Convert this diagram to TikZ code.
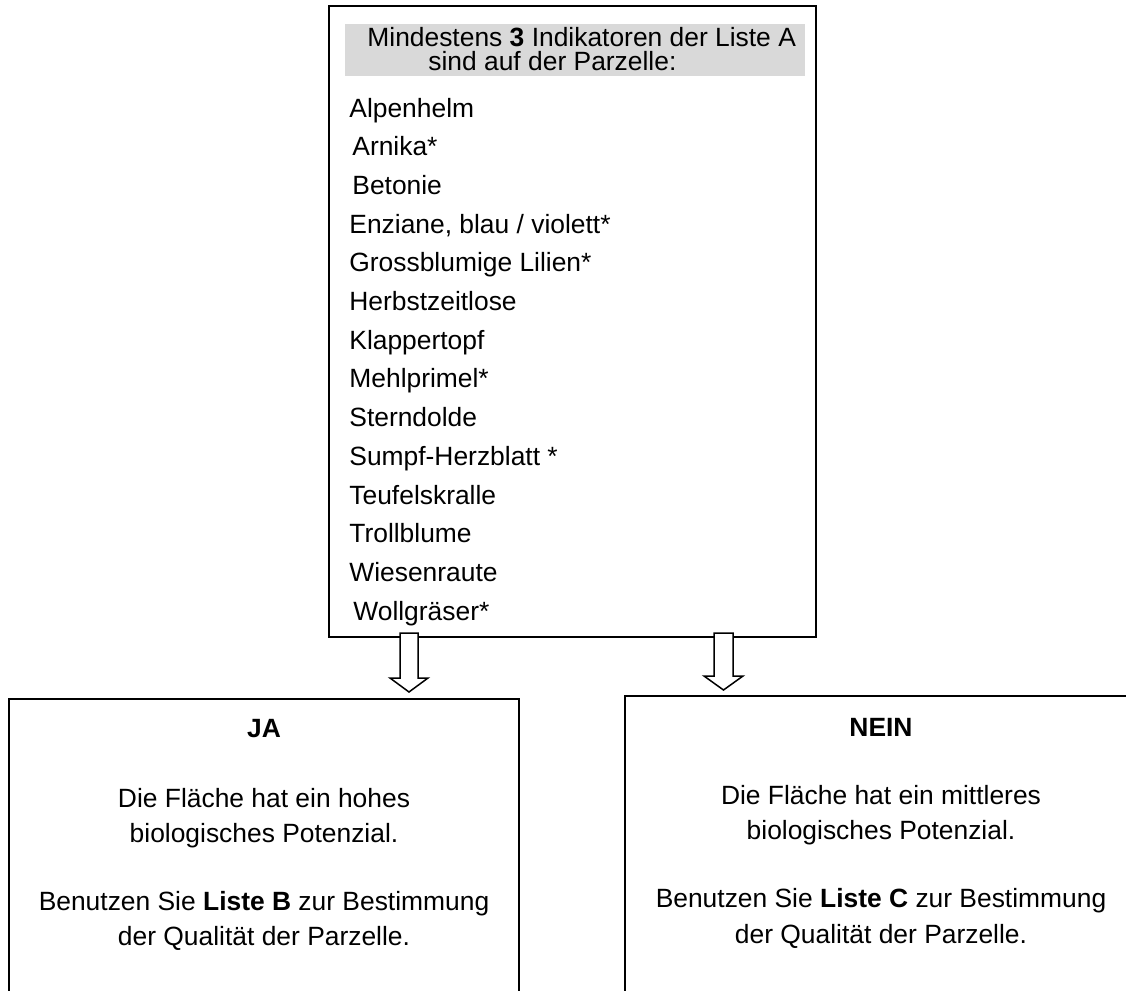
\documentclass[tikz,border=0pt]{standalone}
\usepackage{fontspec}
\setmainfont{Liberation Sans}
\definecolor{bandgray}{HTML}{D9D9D9}
\begin{document}
\begin{tikzpicture}[x=0.5pt,y=-0.5pt,
  box/.style={draw=black, line width=1pt, inner sep=0pt, anchor=north west},
  band/.style={fill=bandgray, draw=none, inner sep=0pt, anchor=north west},
  item/.style={anchor=base west, inner sep=0pt, font=\fontsize{13.2}{15}\selectfont},
  ctext/.style={anchor=base, inner sep=0pt, font=\fontsize{13.2}{15}\selectfont},
  blockarrow/.style={draw=black, line width=0.75pt, fill=white, line join=miter}]
\useasboundingbox (0,0) rectangle (1126,991);
\clip (0,0) rectangle (1126,991);
% top box
\node[box, minimum width=243.5pt, minimum height=315.5pt] (top) at (328,5) {};
\node[band, minimum width=230pt, minimum height=26pt] (band) at (345,24) {};
\node[item, text depth=0pt] (t1) at (367,46) {Mindestens \textbf{3} Indikatoren der Liste A};
\node[item, text depth=0pt] (t2) at (428,70.5) {sind auf der Parzelle:};
% list
\node[item] (i1) at (349,117.0) {Alpenhelm};
\node[item] (i2) at (352,155.7) {Arnika*};
\node[item] (i3) at (352,194.4) {Betonie};
\node[item] (i4) at (349,233.1) {Enziane, blau / violett*};
\node[item] (i5) at (349,271.8) {Grossblumige Lilien*};
\node[item] (i6) at (349,310.5) {Herbstzeitlose};
\node[item] (i7) at (349,349.2) {Klappertopf};
\node[item] (i8) at (349,387.9) {Mehlprimel*};
\node[item] (i9) at (349,426.6) {Sterndolde};
\node[item] (i10) at (349,465.3) {Sumpf-Herzblatt *};
\node[item] (i11) at (349,504.0) {Teufelskralle};
\node[item] (i12) at (349,542.7) {Trollblume};
\node[item] (i13) at (349,581.4) {Wiesenraute};
\node[item] (i14) at (353,620.1) {Wollgräser*};
% result boxes
\node[box, minimum width=255pt, minimum height=200pt] (ja) at (8,698) {};
\node[box, minimum width=260pt, minimum height=200pt] (nein) at (624,695) {};
% arrows
\coordinate (la) at (409,633);
\coordinate (ra) at (723.5,633);
\draw[blockarrow] (la) ++(-9,0) -- ++(0,45) -- ++(-10,0) -- ++(19,14) -- ++(19,-14) -- ++(-10,0) -- ++(0,-45) -- cycle;
\draw[blockarrow] (ra) ++(-9.5,0) -- ++(0,43) -- ++(-10,0) -- ++(19.5,14) -- ++(19.5,-14) -- ++(-10,0) -- ++(0,-43) -- cycle;
% JA text
\node[ctext] (jah) at (264,737) {\textbf{JA}};
\node[ctext] (ja1) at (264,807) {Die Fläche hat ein hohes};
\node[ctext] (ja2) at (264,842) {biologisches Potenzial.};
\node[ctext] (ja3) at (264,910) {Benutzen Sie \textbf{Liste B} zur Bestimmung};
\node[ctext] (ja4) at (264,945) {der Qualität der Parzelle.};
% NEIN text
\node[ctext] (nh) at (881,736) {\textbf{NEIN}};
\node[ctext] (n1) at (881,804) {Die Fläche hat ein mittleres};
\node[ctext] (n2) at (881,839) {biologisches Potenzial.};
\node[ctext] (n3) at (881,907) {Benutzen Sie \textbf{Liste C} zur Bestimmung};
\node[ctext] (n4) at (881,943) {der Qualität der Parzelle.};
\end{tikzpicture}
\end{document}
